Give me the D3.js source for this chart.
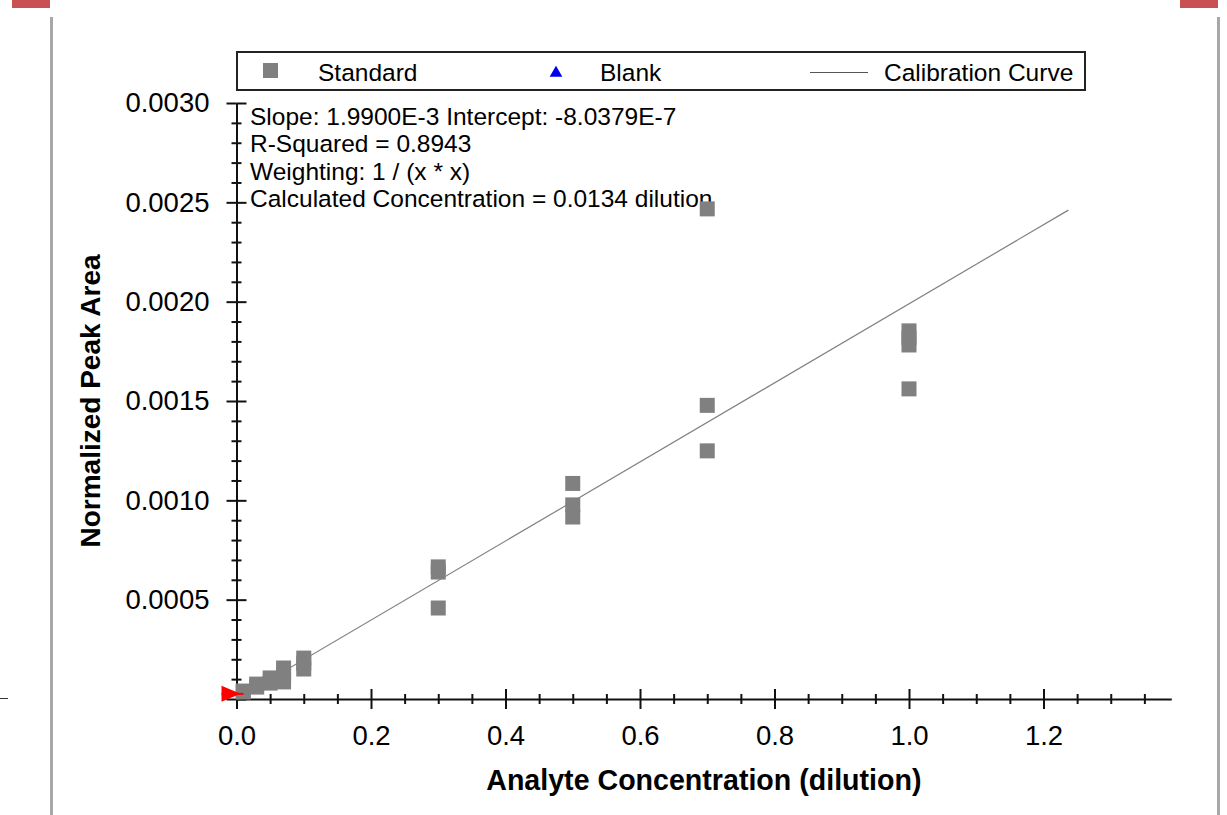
<!DOCTYPE html>
<html>
<head>
<meta charset="utf-8">
<script src="https://cdn.jsdelivr.net/npm/d3@7"></script>
<style>
  body { margin: 0; background: #fff; }
  svg { display: block; font-family: "Liberation Sans", Arial, sans-serif; }
</style>
</head>
<body>
<svg width="1227" height="815"></svg>
<script>
// data
const standardX = [0.01, 0.01, 0.03, 0.03, 0.05, 0.05, 0.07, 0.07, 0.07, 0.1, 0.1, 0.1,
  0.3, 0.3, 0.3, 0.5, 0.5, 0.5, 0.7, 0.7, 0.7, 1.0, 1.0, 1.0, 1.0];
const standardY = [0.000040, 0.000035, 0.000075, 0.000060, 0.000106, 0.000080,
  0.000156, 0.000120, 0.000086, 0.000206, 0.000180, 0.000151,
  0.000665, 0.000639, 0.000458, 0.001085, 0.000977, 0.000916,
  0.002467, 0.001478, 0.001249, 0.001853, 0.001818, 0.001782, 0.001561];
const blankX = [];
const blankY = [];
const slope = 1.99e-3;
const intercept = -8.0379e-7;
const curveEnd = 1.237;
const calcConc = 0.0134;
const xTicks = [0, 0.2, 0.4, 0.6, 0.8, 1.0, 1.2];
const yTicks = [0, 0.0005, 0.001, 0.0015, 0.002, 0.0025, 0.003];
const legendLabels = ['Standard', 'Blank', 'Calibration Curve'];
const infoLines = [
  'Slope: 1.9900E-3 Intercept: -8.0379E-7',
  'R-Squared = 0.8943',
  'Weighting: 1 / (x * x)',
  'Calculated Concentration = 0.0134 dilution'
];

const svg = d3.select('svg');

// window frame bits
svg.append('rect').attr('x', 12).attr('y', 0).attr('width', 38).attr('height', 8).attr('fill', '#c85252');
svg.append('rect').attr('x', 1180).attr('y', 0).attr('width', 38).attr('height', 8).attr('fill', '#c85252');
svg.append('rect').attr('x', 50).attr('y', 17).attr('width', 3).attr('height', 800).attr('fill', '#a8a8a8');
svg.append('rect').attr('x', 1217).attr('y', 17).attr('width', 3).attr('height', 800).attr('fill', '#a8a8a8');
svg.append('line').attr('x1', 0).attr('x2', 8).attr('y1', 698.5).attr('y2', 698.5).attr('stroke', '#333');

const xScale = d3.scaleLinear().domain([0, 1.39]).range([236.5, 236.5 + 1.39 * 672.5]);
const yScale = d3.scaleLinear().domain([0, 0.003]).range([699, 103]);

const minorX = d3.range(0, 1.39, 0.05).filter(v => Math.abs(v / 0.2 - Math.round(v / 0.2)) > 1e-6);
const minorY = d3.range(0, 0.00301, 0.0001).filter(v => Math.abs(v / 0.0005 - Math.round(v / 0.0005)) > 1e-6);

const axisStyle = (g) => {
  g.selectAll('path').attr('stroke', '#111').attr('stroke-width', 2);
  g.selectAll('line').attr('stroke', '#111').attr('stroke-width', 2);
};

// x axis
const xg = svg.append('g').attr('transform', `translate(0,${yScale(0)})`);
xg.append('g').call(d3.axisBottom(xScale).tickValues(minorX).tickSize(5).tickFormat('')).call(axisStyle)
  .select('.domain').remove();
xg.append('g').call(d3.axisTop(xScale).tickValues(minorX).tickSize(5).tickFormat('')).call(axisStyle)
  .select('.domain').remove();
xg.append('g').call(d3.axisTop(xScale).tickValues(xTicks).tickSize(10).tickFormat('')).call(axisStyle)
  .select('.domain').remove();
xg.append('g')
  .call(d3.axisBottom(xScale).tickValues(xTicks).tickSize(10).tickSizeOuter(0).tickPadding(16).tickFormat(d3.format('.1f')))
  .call(axisStyle)
  .call(g => g.selectAll('text').attr('font-size', 27.5).attr('fill', '#000').attr('font-family', null));

// y axis
const yg = svg.append('g').attr('transform', `translate(${xScale(0)},0)`);
yg.append('g').call(d3.axisLeft(yScale).tickValues(minorY).tickSize(5).tickFormat('')).call(axisStyle)
  .select('.domain').remove();
yg.append('g').call(d3.axisRight(yScale).tickValues(minorY).tickSize(5).tickFormat('')).call(axisStyle)
  .select('.domain').remove();
yg.append('g').call(d3.axisRight(yScale).tickValues(yTicks).tickSize(10).tickFormat('')).call(axisStyle)
  .select('.domain').remove();
yg.append('g')
  .call(d3.axisLeft(yScale).tickValues(yTicks).tickSize(10).tickSizeOuter(0).tickPadding(17)
    .tickFormat(d => d === 0 ? '' : d3.format('.4f')(d)))
  .call(axisStyle)
  .call(g => g.selectAll('text').attr('font-size', 27.5).attr('fill', '#000').attr('font-family', null));

// axis titles
svg.append('text')
  .attr('x', (xScale.range()[0] + xScale.range()[1]) / 2)
  .attr('y', 790)
  .attr('text-anchor', 'middle')
  .attr('font-size', 28.6)
  .attr('font-weight', 'bold')
  .text('Analyte Concentration (dilution)');

svg.append('text')
  .attr('transform', `translate(100,${(yScale.range()[0] + yScale.range()[1]) / 2}) rotate(-90)`)
  .attr('text-anchor', 'middle')
  .attr('font-size', 28)
  .attr('font-weight', 'bold')
  .text('Normalized Peak Area');

// regression info
svg.append('g').selectAll('text')
  .data(infoLines)
  .join('text')
  .attr('x', 250)
  .attr('y', (d, i) => 125 + i * 27.3)
  .attr('font-size', 24.5)
  .attr('fill', '#000')
  .text(d => d);

// calibration curve
const lineGen = d3.line()
  .x(d => xScale(d))
  .y(d => yScale(slope * d + intercept));
svg.append('path')
  .attr('d', lineGen([0, curveEnd]))
  .attr('fill', 'none')
  .attr('stroke', '#808080')
  .attr('stroke-width', 1.2);

// standard points
const sq = 15;
svg.append('g').selectAll('rect')
  .data(standardX.map((x, i) => [x, standardY[i]]))
  .join('rect')
  .attr('x', d => xScale(d[0]) - sq / 2)
  .attr('y', d => yScale(d[1]) - sq / 2)
  .attr('width', sq)
  .attr('height', sq)
  .attr('fill', '#808080');

// blanks
const tri = d3.symbol().type(d3.symbolTriangle).size(90);
svg.append('g').selectAll('path')
  .data(blankX.map((x, i) => [x, blankY[i]]))
  .join('path')
  .attr('transform', d => `translate(${xScale(d[0])},${yScale(d[1])})`)
  .attr('d', tri)
  .attr('fill', '#0000ee');

// unknown marker on y axis
const yUnknown = yScale(slope * calcConc + intercept);
const x0 = xScale(0);
svg.append('path')
  .attr('d', `M${x0 - 15},${yUnknown - 8}L${x0 + 4},${yUnknown}L${x0 - 15},${yUnknown + 8}Z`)
  .attr('fill', '#ff0000');
svg.append('line')
  .attr('x1', x0 - 15).attr('x2', x0 + 7)
  .attr('y1', yUnknown).attr('y2', yUnknown)
  .attr('stroke', '#ff0000').attr('stroke-width', 2);

// legend
const legend = svg.append('g');
legend.append('rect')
  .attr('x', 237).attr('y', 52).attr('width', 848).attr('height', 38)
  .attr('fill', '#fff').attr('stroke', '#222').attr('stroke-width', 2);
legend.append('rect')
  .attr('x', 263).attr('y', 63).attr('width', 15).attr('height', 15).attr('fill', '#808080');
legend.append('path')
  .attr('transform', 'translate(556,73)')
  .attr('d', d3.symbol().type(d3.symbolTriangle).size(70))
  .attr('fill', '#0000ee');
legend.append('line')
  .attr('x1', 810).attr('x2', 868).attr('y1', 72.5).attr('y2', 72.5)
  .attr('stroke', '#555').attr('stroke-width', 1.2);
legend.selectAll('text.lab')
  .data(legendLabels)
  .join('text')
  .attr('class', 'lab')
  .attr('x', (d, i) => [318, 600, 884][i])
  .attr('y', 81)
  .attr('font-size', 24.5)
  .attr('fill', '#000')
  .text(d => d);
</script>
</body>
</html>
